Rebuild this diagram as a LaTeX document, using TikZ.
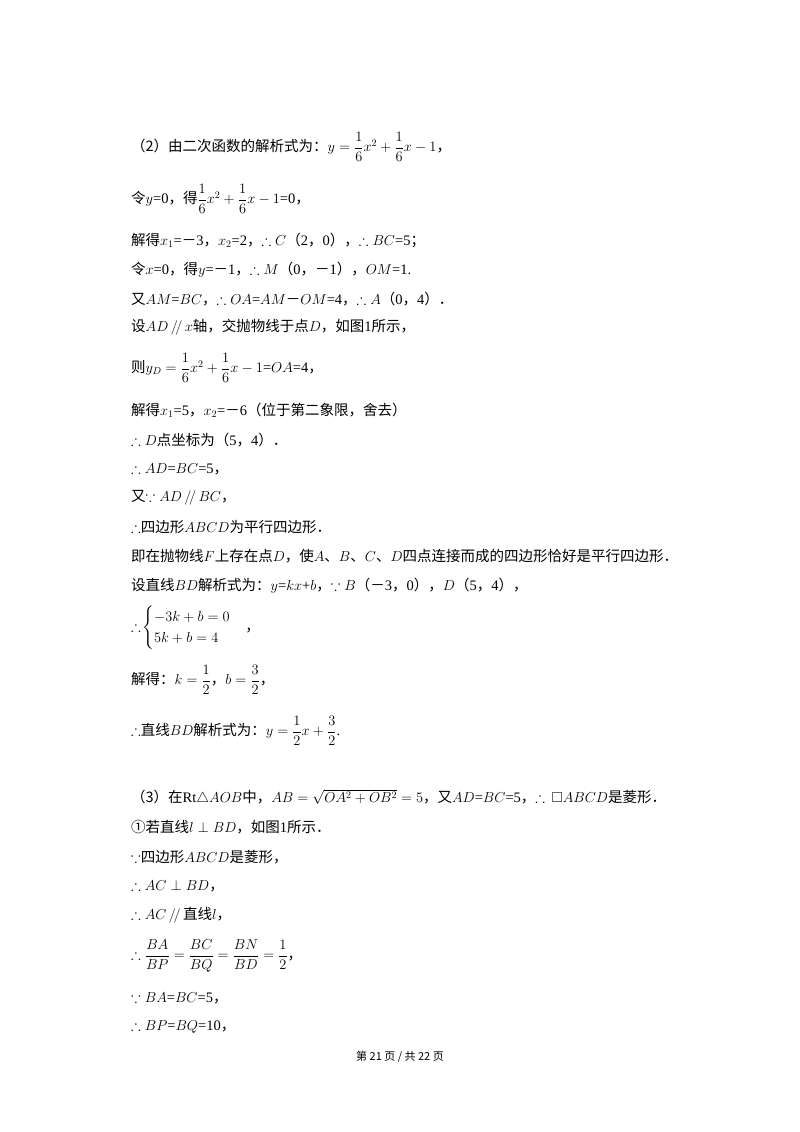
\documentclass[tikz,border=0pt]{standalone}
\usepackage{amsmath,amssymb}
\usepackage{fontspec}
\setmainfont{Liberation Serif}
\newfontfamily\cjk{Noto Sans CJK SC}
\newcommand{\zh}[1]{{\cjk #1}}
\newcommand{\mn}{{\cjk －}}
\begin{document}
\begin{tikzpicture}[x=1pt,y=1pt,every node/.style={anchor=west,inner sep=0pt,font=\fontsize{14.5}{17}\selectfont},ln/.style={}]
\useasboundingbox[fill=white] (0,0) rectangle (800,-1132);
\node[ln] (l1) at (131,-147) {\zh{（2）由二次函数的解析式为：}$y=\dfrac{1}{6}x^2+\dfrac{1}{6}x-1$\zh{，}};
\node[ln] (l2) at (131,-199) {\zh{令}$y$=0\zh{，得}$\dfrac{1}{6}x^2+\dfrac{1}{6}x-1$=0\zh{，}};
\node[ln] (l3) at (131,-240) {\zh{解得}$x_1$=\mn3\zh{，}$x_2$=2\zh{，}$\therefore C$\zh{（}2\zh{，}0\zh{），}$\therefore BC$=5\zh{；}};
\node[ln] (l4) at (131,-270) {\zh{令}$x$=0\zh{，得}$y$=\mn1\zh{，}$\therefore M$\zh{（}0\zh{，}\mn1\zh{），}$OM$=1.};
\node[ln] (l5) at (131,-299) {\zh{又}$AM$=$BC$\zh{，}$\therefore OA$=$AM$\mn$OM$=4\zh{，}$\therefore A$\zh{（}0\zh{，}4\zh{）．}};
\node[ln] (l6) at (131,-327) {\zh{设}$AD\,/\!/\,x$\zh{轴，交抛物线于点}$D$\zh{，如图}1\zh{所示，}};
\node[ln] (l7) at (131,-368) {\zh{则}$y_D=\dfrac{1}{6}x^2+\dfrac{1}{6}x-1$=$OA$=4\zh{，}};
\node[ln] (l8) at (131,-410) {\zh{解得}$x_1$=5\zh{，}$x_2$=\mn6\zh{（位于第二象限，舍去）}};
\node[ln] (l9) at (131,-440) {$\therefore D$\zh{点坐标为（}5\zh{，}4\zh{）．}};
\node[ln] (l10) at (131,-469) {$\therefore AD$=$BC$=5\zh{，}};
\node[ln] (l11) at (131,-498) {\zh{又}$\because AD\,/\!/\,BC$\zh{，}};
\node[ln] (l12) at (131,-527) {$\therefore$\zh{四边形}$ABCD$\zh{为平行四边形．}};
\node[ln] (l13) at (131,-556) {\zh{即在抛物线}$F$\zh{上存在点}$D$\zh{，使}$A$\zh{、}$B$\zh{、}$C$\zh{、}$D$\zh{四点连接而成的四边形恰好是平行四边形．}};
\node[ln] (l14) at (131,-586) {\zh{设直线}$BD$\zh{解析式为：}$y$=$kx$+$b$\zh{，}$\because B$\zh{（}\mn3\zh{，}0\zh{），}$D$\zh{（}5\zh{，}4\zh{），}};
\node[ln] (l15) at (131,-628) {$\therefore\!\begin{cases}-3k+b=0\\5k+b=4\end{cases}$\zh{，}};
\node[ln] (l16) at (131,-680) {\zh{解得：}$k=\dfrac{1}{2}$\zh{，}$b=\dfrac{3}{2}$\zh{，}};
\node[ln] (l17) at (131,-731) {$\therefore$\zh{直线}$BD$\zh{解析式为：}$y=\dfrac{1}{2}x+\dfrac{3}{2}$.};
\node[ln] (l18) at (131,-797) {\zh{（3）在}Rt$\triangle AOB$\zh{中，}$AB=\sqrt{OA^2+OB^2}=5$\zh{，又}$AD$=$BC$=5\zh{，}$\therefore\,\square ABCD$\zh{是菱形．}};
\node[ln] (l19) at (131,-827) {\zh{①若直线}$l\perp BD$\zh{，如图}1\zh{所示．}};
\node[ln] (l20) at (131,-857) {$\because$\zh{四边形}$ABCD$\zh{是菱形，}};
\node[ln] (l21) at (131,-886) {$\therefore AC\perp BD$\zh{，}};
\node[ln] (l22) at (131,-915) {$\therefore AC\,/\!/\,$\zh{直线}$l$\zh{，}};
\node[ln] (l23) at (131,-956) {$\therefore\dfrac{BA}{BP}=\dfrac{BC}{BQ}=\dfrac{BN}{BD}=\dfrac{1}{2}$\zh{，}};
\node[ln] (l24) at (131,-998) {$\because BA$=$BC$=5\zh{，}};
\node[ln] (l25) at (131,-1027) {$\therefore BP$=$BQ$=10\zh{，}};
\node[anchor=center,font=\fontsize{11}{13}\selectfont] (ft) at (400,-1057) {\zh{第 21 页 / 共 22 页}};
\end{tikzpicture}
\end{document}
